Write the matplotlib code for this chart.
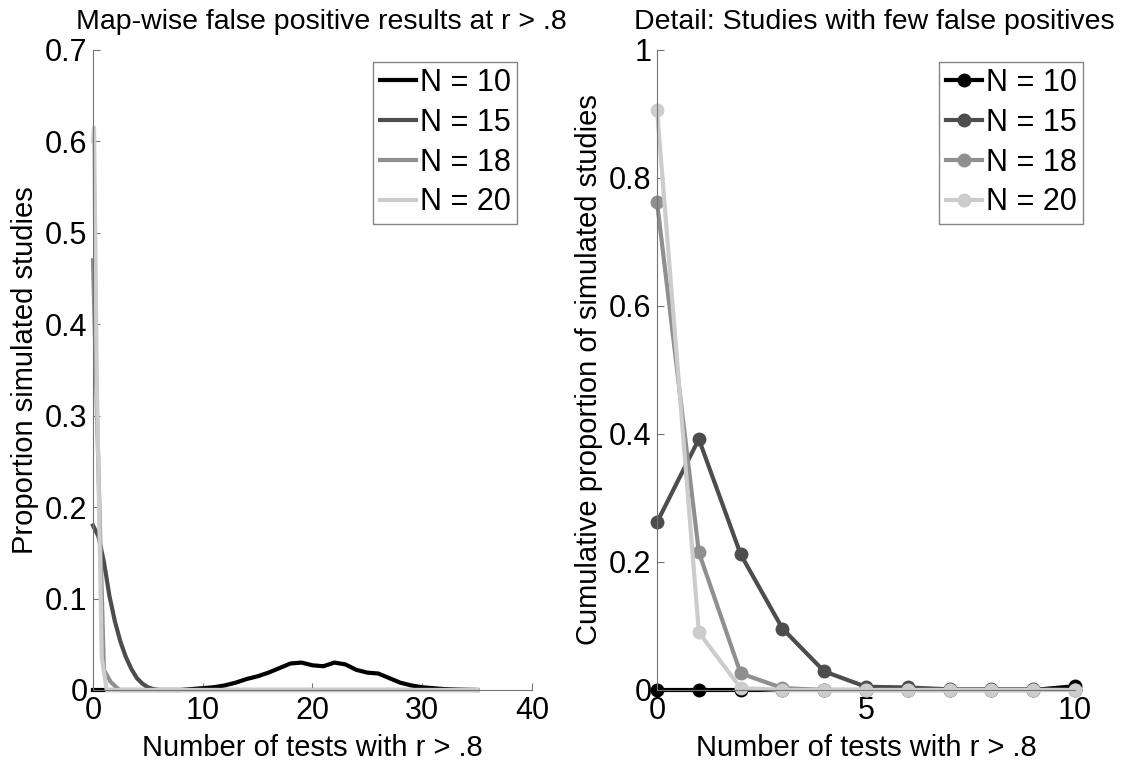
import matplotlib

matplotlib.use("Agg")
import matplotlib.pyplot as plt

labels = ["N = 10", "N = 15", "N = 18", "N = 20"]
colors = ["#000000", "#4d4d4d", "#8f8f8f", "#cccccc"]

# left panel: smoothed distribution of the number of tests with r > .8
n10_x = [0, 1, 2, 3, 4, 5, 6, 7, 8, 9, 10, 11, 12, 13, 14, 15, 16, 17, 18, 19,
         20, 21, 22, 23, 24, 25, 26, 27, 28, 29, 30, 31, 32, 33, 34, 35]
n10_y = [0, 0, 0, 0, 0, 0, 0, 0, 0, 0.001, 0.002, 0.003, 0.005, 0.008, 0.012, 0.015,
         0.019, 0.024, 0.029, 0.030, 0.027, 0.026, 0.030, 0.028, 0.022, 0.019, 0.018,
         0.013, 0.008, 0.005, 0.003, 0.002, 0.001, 0.0005, 0.0002, 0]
n15_x = [0, 0.5, 1, 1.5, 2, 2.5, 3, 3.5, 4, 4.5, 5, 5.5, 6, 10, 20, 35]
n15_y = [0.18, 0.168, 0.14, 0.103, 0.075, 0.053, 0.036, 0.023, 0.013, 0.007, 0.003,
         0.001, 0, 0, 0, 0]
n18_x = [0, 0.35, 0.7, 1.0, 1.6, 2.4, 5, 10, 20, 35]
n18_y = [0.47, 0.31, 0.15, 0.022, 0.009, 0, 0, 0, 0, 0]
n20_x = [0, 0.1, 0.35, 0.8, 1.25, 2, 5, 10, 20, 35]
n20_y = [0.6, 0.615, 0.34, 0.036, 0, 0, 0, 0, 0, 0]

# right panel: studies with few false positives
detail_x = [0, 1, 2, 3, 4, 5, 6, 7, 8, 9, 10]
detail_n10 = [0, 0, 0, 0, 0, 0, 0, 0, 0, 0, 0.006]
detail_n15 = [0.262, 0.392, 0.212, 0.096, 0.029, 0.005, 0.004, 0.001, 0.001, 0.001, 0]
detail_n18 = [0.762, 0.215, 0.026, 0.003, 0, 0, 0, 0, 0, 0, 0]
detail_n20 = [0.906, 0.090, 0.003, 0, 0, 0, 0, 0, 0, 0, 0]

plt.rcParams["font.family"] = ["Liberation Sans", "DejaVu Sans"]

fig = plt.figure(figsize=(11.35, 7.7), dpi=100)
ax_left = fig.add_axes([0.0819, 0.1039, 0.3868, 0.8312])
ax_right = fig.add_axes([0.5789, 0.1039, 0.3683, 0.8312])


def _style(ax):
    for side in ("top", "right"):
        ax.spines[side].set_visible(False)
    for side in ("left", "bottom"):
        ax.spines[side].set_color("0.45")
        ax.spines[side].set_linewidth(0.8)
    ax.tick_params(direction="in", length=5, width=0.8, color="0.45",
                   labelsize=22, pad=4)


def _legend(ax, right_px):
    ax.legend(loc="upper right", bbox_to_anchor=(right_px / 1135, 1 - 62 / 770),
              bbox_transform=fig.transFigure, fontsize=22, frameon=True,
              fancybox=False, edgecolor="0.4", handlelength=1.2,
              handletextpad=0.12, borderpad=0.2, labelspacing=0.32,
              borderaxespad=0)


left_series = [(n10_x, n10_y), (n15_x, n15_y), (n18_x, n18_y), (n20_x, n20_y)]
for (xs, ys), color, label in zip(left_series, colors, labels):
    ax_left.plot(xs, ys, color=color, linewidth=3, label=label, clip_on=False)

ax_left.set_xlim(0, 40)
ax_left.set_ylim(0, 0.7)
ax_left.set_xticks([0, 10, 20, 30, 40])
ax_left.set_yticks([0, 0.1, 0.2, 0.3, 0.4, 0.5, 0.6, 0.7])
ax_left.set_yticklabels(["0", "0.1", "0.2", "0.3", "0.4", "0.5", "0.6", "0.7"])
_style(ax_left)
ax_left.set_xlabel("Number of tests with r > .8", fontsize=21, labelpad=6)
ax_left.set_ylabel("Proportion simulated studies", fontsize=21, labelpad=4)
ax_left.set_title("Map-wise false positive results at r > .8", fontsize=20.5,
                  pad=15, x=0.52)
_legend(ax_left, 517)

right_series = [detail_n10, detail_n15, detail_n18, detail_n20]
for ys, color, label in zip(right_series, colors, labels):
    ax_right.plot(detail_x, ys, color=color, linewidth=3, marker="o",
                  markersize=9, label=label, clip_on=False)

ax_right.set_xlim(0, 10)
ax_right.set_ylim(0, 1)
ax_right.set_xticks([0, 5, 10])
ax_right.set_yticks([0, 0.2, 0.4, 0.6, 0.8, 1])
ax_right.set_yticklabels(["0", "0.2", "0.4", "0.6", "0.8", "1"])
_style(ax_right)
ax_right.set_xlabel("Number of tests with r > .8", fontsize=21, labelpad=6)
ax_right.set_ylabel("Cumulative proportion of simulated studies", fontsize=21,
                    labelpad=4)
ax_right.set_title("Detail: Studies with few false positives", fontsize=20.5,
                   pad=15, x=0.52)
_legend(ax_right, 1083)

fig.savefig("out.png", dpi=100)
plt.close(fig)
